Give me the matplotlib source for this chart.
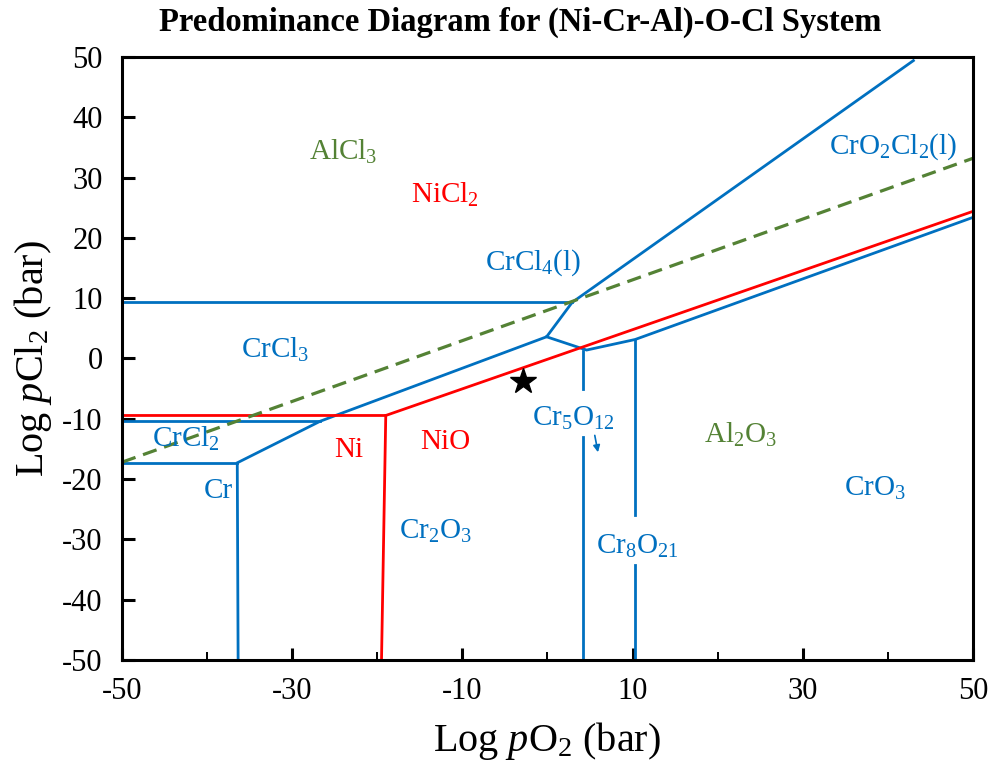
import matplotlib
matplotlib.use("Agg")
import matplotlib.pyplot as plt

plt.rcParams['font.family'] = ['Liberation Serif', 'DejaVu Serif']
plt.rcParams['mathtext.fontset'] = 'custom'
plt.rcParams['mathtext.rm'] = 'Liberation Serif'
plt.rcParams['mathtext.it'] = 'Liberation Serif:italic'
plt.rcParams['mathtext.bf'] = 'Liberation Serif:bold'
plt.rcParams['axes.unicode_minus'] = False

BLUE = '#0070C0'
RED = '#FF0000'
GREEN = '#548235'

# Cr-O-Cl boundaries (blue)
crcl3_crcl4_x = [-50, 2.9]
crcl3_crcl4_y = [9.3, 9.3]
crcl4_cro2cl2_x = [2.9, 43.0]
crcl4_cro2cl2_y = [9.3, 49.4]
crcl3_cr2o3_x = [2.9, -0.1, -26.7, -36.45, -36.35]
crcl3_cr2o3_y = [9.3, 3.6, -10.4, -17.3, -50]
crcl2_crcl3_x = [-50, -26.7]
crcl2_crcl3_y = [-10.4, -10.4]
cr_crcl2_x = [-50, -36.45]
cr_crcl2_y = [-17.3, -17.3]
oxide_top_x = [-0.1, 4.6, 10.3, 50]
oxide_top_y = [3.6, 1.4, 3.15, 23.4]
cr5o12_x = [4.2, 4.2]
cr5o12_upper_y = [1.3, -5.1]
cr5o12_lower_y = [-13.1, -50]
cr8o21_x = [10.25, 10.25]
cr8o21_upper_y = [3.15, -25.9]
cr8o21_lower_y = [-34.2, -50]

# Ni-O-Cl boundaries (red)
ni_nicl2_x = [-50, -19.0, 50]
ni_nicl2_y = [-9.45, -9.45, 24.4]
ni_nio_x = [-19.0, -19.5]
ni_nio_y = [-9.45, -50]

# Al-O-Cl boundary (green dashed)
al_x = [-50, 50]
al_y = [-17.2, 33.2]

# marked condition
star_x = [-2.9]
star_y = [-3.8]

fig = plt.figure(figsize=(9.98, 7.67), dpi=100)
ax = fig.add_axes([0.1222, 0.1395, 0.8527, 0.7862])

lw = 2.0
for xs, ys in [(crcl3_crcl4_x, crcl3_crcl4_y), (crcl4_cro2cl2_x, crcl4_cro2cl2_y),
               (crcl3_cr2o3_x, crcl3_cr2o3_y), (crcl2_crcl3_x, crcl2_crcl3_y),
               (cr_crcl2_x, cr_crcl2_y), (oxide_top_x, oxide_top_y),
               (cr5o12_x, cr5o12_upper_y), (cr5o12_x, cr5o12_lower_y),
               (cr8o21_x, cr8o21_upper_y), (cr8o21_x, cr8o21_lower_y)]:
    ax.plot(xs, ys, color=BLUE, lw=lw, solid_joinstyle='miter')
ax.plot(ni_nicl2_x, ni_nicl2_y, color=RED, lw=lw)
ax.plot(ni_nio_x, ni_nio_y, color=RED, lw=lw)
ax.plot(al_x, al_y, color=GREEN, lw=2.3, dashes=(4.5, 2.5))
ax.plot(star_x, star_y, marker='*', color='black', markersize=19, ls='none')

ax.annotate('', xy=(6.0, -16.0), xytext=(5.5, -12.3),
            arrowprops=dict(arrowstyle='-|>', color=BLUE, lw=1.2, mutation_scale=10))

fs = 21
labels = [
    (-24, 34.2, 'AlCl$_3$', GREEN),
    (-12, 27.2, 'NiCl$_2$', RED),
    (-1.7, 15.9, 'CrCl$_4$(l)', BLUE),
    (40.6, 35.2, 'CrO$_2$Cl$_2$(l)', BLUE),
    (-32, 1.5, 'CrCl$_3$', BLUE),
    (-42.5, -13.4, 'CrCl$_2$', BLUE),
    (-38.7, -21.9, 'Cr', BLUE),
    (-23.4, -15.2, 'Ni', RED),
    (-12, -13.8, 'NiO', RED),
    (3.0, -9.9, 'Cr$_5$O$_{12}$', BLUE),
    (22.7, -12.6, 'Al$_2$O$_3$', GREEN),
    (38.5, -21.5, 'CrO$_3$', BLUE),
    (-13.2, -28.7, 'Cr$_2$O$_3$', BLUE),
    (10.6, -31.2, 'Cr$_8$O$_{21}$', BLUE),
]
for x, y, t, c in labels:
    ax.text(x, y, t, color=c, fontsize=fs, ha='center', va='center')

ax.set_xlim(-50, 50)
ax.set_ylim(-50, 50)
ax.set_xticks([-50, -30, -10, 10, 30, 50])
ax.set_xticks([-40, -20, 0, 20, 40], minor=True)
ax.set_yticks(range(-50, 51, 10))
ax.tick_params(axis='both', which='major', direction='in', length=9, width=2.2,
               labelsize=22, top=False, right=False)
ax.tick_params(axis='x', which='major', pad=12)
ax.tick_params(axis='y', which='major', pad=14)
ax.tick_params(axis='x', which='minor', direction='in', length=6, width=1.4)
for s in ax.spines.values():
    s.set_linewidth(2.2)

ax.set_xlabel('Log $\\mathit{p}$O$_2$ (bar)', fontsize=29, labelpad=10)
ax.set_ylabel('Log $\\mathit{p}$Cl$_2$ (bar)', fontsize=29, labelpad=6)

fig.text(0.521, 0.971, 'Predominance Diagram for (Ni-Cr-Al)-O-Cl System',
         fontsize=23.5, fontweight='bold', ha='center', va='center')

fig.savefig('out.png', dpi=100)
